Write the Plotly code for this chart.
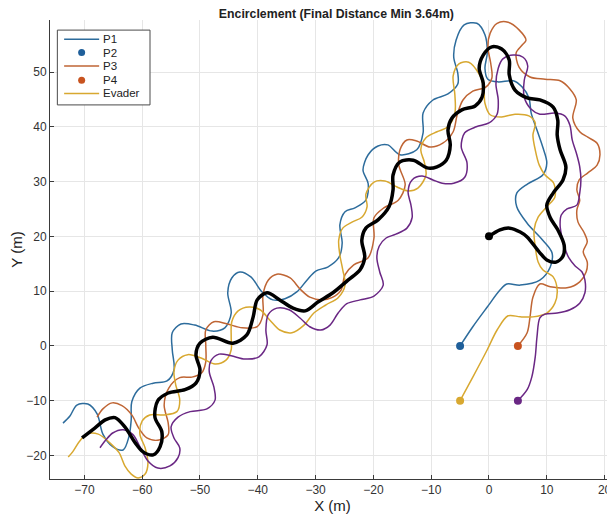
import plotly.graph_objects as go

# ---------------- data (metres) ----------------
evader_x = [0.0, 1.9, 3.6, 5.4, 6.6, 8.8, 10.0, 11.6, 12.8, 13.0, 11.9, 10.6, 10.0, 11.1, 12.8, 13.3,
            12.3, 11.8, 11.9, 11.1, 8.8, 6.6, 4.5, 3.5, 3.5, 2.2, 0.5, -1.0, -1.7, -1.0, -1.2, -2.4,
            -4.7, -6.4, -7.1, -6.7, -7.4, -9.0, -10.7, -13.1, -15.4, -16.6, -16.6, -17.3, -19.2, -21.3,
            -22.0, -21.5, -22.3, -24.4, -27.0, -29.6, -31.8, -33.9, -36.2, -38.4, -40.1, -40.8, -41.9,
            -44.3, -47.8, -50.0, -50.7, -50.0, -50.7, -52.6, -55.5, -57.3, -57.8, -56.6, -56.9, -58.1,
            -59.9, -61.2, -63.0, -64.7, -66.4, -68.2, -70.4]
evader_y = [20.0, 21.2, 21.5, 20.8, 19.9, 17.0, 15.7, 15.3, 16.4, 18.4, 21.2, 23.4, 25.7, 27.9, 30.3, 32.7,
            35.8, 38.5, 41.2, 43.6, 44.9, 45.3, 46.7, 49.5, 52.2, 54.2, 54.6, 53.1, 50.7, 48.0, 45.4, 43.8,
            43.1, 41.6, 39.4, 36.7, 33.9, 32.7, 32.5, 33.9, 33.6, 31.2, 28.5, 25.4, 23.0, 21.5,
            19.3, 16.2, 13.9, 12.0, 9.7, 8.0, 6.4, 6.9, 8.4, 9.7, 8.4, 5.3, 2.0,
            0.5, 1.6, 0.5, -1.6, -4.4, -6.8, -8.0, -8.6, -10.0, -13.0, -15.7, -18.4, -19.9,
            -19.3, -17.7, -14.8, -13.1, -13.5, -15.0, -16.8]

p1_x = [-5.0, -2.8, -0.3, 1.9, 3.1, 5.4, 8.8, 10.6, 10.9, 9.3, 6.6, 4.8, 4.8, 6.7, 9.3, 10.0, 9.3, 8.3,
        7.3, 6.9, 5.7, 4.2, 1.6, -0.2, -0.7, -0.3, -0.7, -2.1, -4.3, -5.7, -6.1, -5.4, -5.4, -7.1, -9.7,
        -11.4, -11.4, -12.5, -15.4, -17.5, -19.2, -20.9, -21.8, -20.9, -21.3, -23.2, -24.9, -25.8, -25.4,
        -26.0, -27.9, -29.9, -31.5, -33.2, -35.3, -37.4, -39.3, -41.2, -43.1, -44.5, -45.2, -44.6, -45.7,
        -47.9, -50.9, -53.3, -54.8, -54.8, -54.5, -55.7, -58.1, -60.4, -61.8, -61.9, -62.3, -63.3, -65.1,
        -66.8, -67.8, -69.4, -71.3, -72.5, -73.7]
p1_y = [0.0, 3.5, 7.1, 10.2, 11.3, 11.1, 12.0, 14.4, 17.0, 19.3, 22.4, 25.4, 27.9, 29.6, 31.2, 33.4, 36.3,
        39.4, 42.5, 45.3, 47.3, 48.4, 48.2, 48.7, 50.7, 53.5, 56.8, 58.9, 58.6, 55.8, 52.7, 49.8, 47.8,
        46.0, 44.9, 42.5, 38.9, 35.8, 34.9, 36.7, 36.5, 34.9, 32.1, 29.6, 26.6, 25.2, 24.5, 22.1, 18.8,
        16.1, 14.4, 13.7, 12.0, 9.9, 8.6, 8.4, 9.9, 12.6, 13.5, 12.4, 9.7, 6.0, 3.3, 2.7, 3.8, 4.0, 2.4,
        -0.7, -4.4, -6.4, -6.8, -7.7, -10.2, -13.5, -16.6, -19.0, -18.4, -16.1, -12.4, -10.6, -10.8,
        -12.8, -14.1]

p3_x = [5.0, 6.6, 7.1, 7.6, 8.8, 10.6, 13.5, 15.7, 16.8, 17.0, 16.3, 17.0, 16.4, 15.4, 15.2, 15.7, 15.2,
        15.6, 17.1, 18.7, 19.2, 18.7, 17.1, 15.7, 14.5, 15.1, 14.0, 12.3, 9.7, 7.1, 5.2, 4.7, 5.7, 6.4,
        5.2, 3.3, 1.4, 0.2, -0.2, 0.3, 0.5, -0.5, -2.8, -4.5, -5.5, -6.2, -8.0, -10.2, -12.5, -14.2,
        -15.4, -15.6, -14.5, -15.7, -18.2, -19.9, -19.9, -20.9, -23.4, -24.9, -25.6, -27.2, -28.9, -31.0,
        -32.7, -34.4, -36.7, -38.2, -39.1, -39.1, -40.1, -42.7, -45.3, -47.6, -49.0, -49.0, -49.0, -49.7,
        -51.4, -53.5, -55.4, -56.2, -55.5, -55.5, -57.1, -59.2, -60.6, -61.8, -63.5, -65.2, -66.8, -67.8]
p3_y = [0.0, 2.4, 5.3, 8.9, 11.3, 10.8, 10.6, 11.7, 13.5, 15.3, 17.2, 19.0, 20.8, 22.6, 24.8, 26.6, 28.5,
        30.3, 31.6, 33.0, 34.9, 37.0, 38.1, 39.1, 41.6, 44.9, 46.9, 48.4, 48.7, 49.1, 50.9, 53.5, 54.9,
        55.8, 57.7, 59.1, 58.9, 57.1, 54.6, 51.6, 48.9, 47.3, 46.5, 44.9, 42.2, 39.1, 37.0, 36.3, 37.4,
        37.6, 35.8, 33.0, 29.4, 26.6, 25.2, 23.4, 19.7, 16.1, 14.8, 13.0, 10.2, 8.8, 8.4, 8.9, 10.4, 12.4,
        13.1, 12.0, 9.3, 5.7, 3.5, 3.3, 4.0, 4.4, 2.9, 0.2, -2.9, -4.9, -5.7, -5.8, -7.7, -10.8, -14.1,
        -16.2, -17.2, -16.8, -15.0, -12.6, -10.9, -10.4, -11.5, -13.0]

pe_x = [-5.0, -2.8, -0.3, 1.4, 3.3, 5.4, 7.6, 10.0, 11.4, 11.8, 11.1, 9.3, 8.5, 8.0, 7.8, 8.5, 10.0, 11.4,
        11.2, 9.7, 8.7, 8.0, 7.6, 8.0, 6.9, 4.5, 2.2, 0.2, -0.7, -0.9, -1.7, -3.5, -5.2, -6.2, -5.9, -5.9,
        -7.1, -9.0, -10.9, -11.8, -11.2, -10.9, -12.3, -14.0, -15.9, -18.0, -19.9, -21.3, -21.1, -22.0,
        -23.7, -25.3, -26.0, -25.8, -25.3, -24.9, -26.1, -28.2, -30.3, -32.0, -34.1, -36.2, -37.9, -39.6,
        -41.5, -43.4, -44.5, -44.6, -44.6, -45.5, -47.4, -49.8, -52.1, -53.8, -54.5, -54.2, -53.5, -54.0,
        -56.2, -58.7, -60.0, -60.4, -59.5, -59.0, -59.5, -60.7, -61.9, -63.0, -64.0, -65.6, -67.6, -69.6,
        -70.9, -72.0, -72.8]
pe_y = [-10.0, -5.7, -0.7, 2.9, 5.5, 5.3, 5.3, 6.0, 7.8, 10.2, 12.6, 13.9, 15.3, 18.1, 21.2, 23.5, 25.4,
        27.2, 29.7, 31.2, 33.0, 35.8, 38.5, 40.7, 42.0, 42.3, 41.8, 42.2, 44.3, 47.1, 49.6, 51.8, 51.5,
        49.3, 45.8, 42.5, 40.0, 39.1, 38.0, 35.8, 33.6, 31.2, 28.8, 28.3, 29.0, 30.1, 29.9, 27.7, 25.4,
        23.5, 22.6, 21.5, 19.3, 16.6, 13.9, 11.1, 8.8, 7.5, 6.0, 3.8, 2.4, 2.9, 4.7, 6.6, 7.1, 6.4, 4.4,
        1.6, -0.7, -2.6, -3.3, -2.2, -1.6, -2.6, -4.7, -7.1, -9.9, -12.0, -12.6, -12.6, -13.7, -16.1,
        -18.6, -21.4, -23.4, -24.1, -23.4, -21.9, -19.5, -17.7, -16.1, -16.1, -17.5, -19.3, -20.3]

p4_x = [5.0, 6.6, 7.4, 8.0, 8.3, 8.8, 9.7, 11.8, 14.0, 15.7, 16.6, 16.6, 16.1, 14.9, 13.8, 13.1, 12.6,
        12.3, 12.5, 13.5, 15.2, 15.7, 15.9, 15.7, 15.2, 14.4, 14.0, 13.1, 11.4, 8.8, 7.3, 6.1, 6.1, 6.7,
        5.9, 4.2, 2.4, 1.6, 1.2, 1.6, 1.4, 0.0, -2.2, -4.2, -4.8, -3.8, -4.2, -6.1, -8.1, -9.7, -11.6,
        -13.3, -14.0, -13.5, -13.3, -14.2, -16.1, -17.8, -19.0, -19.4, -18.9, -18.3, -19.9, -22.3, -24.6,
        -26.1, -27.5, -29.1, -31.0, -32.7, -34.6, -36.7, -38.2, -38.6, -38.4, -39.8, -42.2, -44.6, -46.7,
        -48.1, -48.4, -47.6, -47.4, -48.8, -51.7, -53.8, -55.0, -54.5, -53.5, -53.8, -55.2, -57.3, -59.0,
        -60.4, -61.6, -63.3, -65.1, -66.3, -67.3]
p4_y = [-10.0, -8.0, -5.7, -2.0, 1.6, 5.1, 5.8, 6.0, 6.6, 7.8, 9.7, 12.0, 13.5, 14.6, 16.1, 17.9, 19.9,
        22.1, 23.9, 25.0, 25.7, 27.9, 30.3, 32.7, 34.9, 37.6, 40.3, 42.0, 42.5, 42.3, 43.2, 45.4, 48.5,
        51.1, 52.7, 53.1, 52.4, 50.7, 47.8, 44.9, 42.3, 40.7, 40.0, 38.9, 36.3, 33.4, 30.8, 29.7, 29.7,
        30.3, 31.0, 30.3, 28.1, 25.7, 23.4, 21.5, 20.4, 19.7, 18.2, 16.1, 13.5, 11.1, 9.1, 8.4, 7.7, 6.0,
        3.8, 2.9, 3.5, 5.1, 6.6, 6.9, 5.7, 2.9, 0.2, -2.0, -2.4, -1.8, -1.5, -2.7, -4.7, -7.5, -9.9,
        -11.5, -12.0, -13.0, -14.8, -16.8, -18.6, -20.4, -21.9, -22.3, -21.0, -18.4, -16.2, -15.3,
        -15.9, -17.2, -18.6]

legend_names = ["P1", "P2", "P3", "P4", "Evader"]
x_ticks = [-70, -60, -50, -40, -30, -20, -10, 0, 10, 20]
y_ticks = [-20, -10, 0, 10, 20, 30, 40, 50]

BLUE = "#2d6c9c"
BLUE_DOT = "#1f5f9a"
ORANGE = "#bf6534"
ORANGE_DOT = "#c8531f"
YELLOW = "#d8a830"
PURPLE = "#6a2784"
FONT = "Liberation Sans, Arial, sans-serif"

fig = go.Figure()

def path(x, y, color, width, name=None):
    fig.add_trace(go.Scatter(x=x, y=y, mode="lines", name=name, showlegend=False,
                             line=dict(color=color, width=width, shape="spline", smoothing=0.9),
                             hoverinfo="skip"))

def start(x, y, color, name=None):
    fig.add_trace(go.Scatter(x=[x[0]], y=[y[0]], mode="markers", name=name, showlegend=False,
                             marker=dict(color=color, size=8), hoverinfo="skip"))

path(p1_x, p1_y, BLUE, 1.5, legend_names[0])
start(p1_x, p1_y, BLUE_DOT, legend_names[1])
path(p3_x, p3_y, ORANGE, 1.5, legend_names[2])
start(p3_x, p3_y, ORANGE_DOT, legend_names[3])
path(pe_x, pe_y, YELLOW, 1.5, legend_names[4])
start(pe_x, pe_y, YELLOW)
path(p4_x, p4_y, PURPLE, 1.5)
start(p4_x, p4_y, PURPLE)
path(evader_x, evader_y, "#000000", 3.5)
start(evader_x, evader_y, "#000000")

# ---- compact MATLAB-style legend (box, swatches, labels) in paper coords ----
leg_x0, leg_x1, leg_y0, leg_y1 = 0.013, 0.177, 0.815, 0.978
item_y = [0.958, 0.929, 0.900, 0.869, 0.840]
sw_x0, sw_x1, dot_x, txt_x = 0.025, 0.087, 0.056, 0.090
legend_styles = [("line", BLUE), ("dot", BLUE_DOT), ("line", ORANGE), ("dot", ORANGE_DOT), ("line", YELLOW)]

shapes = [dict(type="rect", xref="paper", yref="paper", x0=leg_x0, x1=leg_x1, y0=leg_y0, y1=leg_y1,
               line=dict(color="#4a4a4a", width=1), fillcolor="white", layer="above")]
annotations = []
for name, (kind, col), yy in zip(legend_names, legend_styles, item_y):
    if kind == "line":
        shapes.append(dict(type="line", xref="paper", yref="paper", x0=sw_x0, x1=sw_x1, y0=yy, y1=yy,
                           line=dict(color=col, width=1.5), layer="above"))
    else:
        shapes.append(dict(type="circle", xref="paper", yref="paper", xsizemode="pixel",
                           ysizemode="pixel", xanchor=dot_x, yanchor=yy, x0=-3.5, x1=3.5, y0=-3.5, y1=3.5,
                           fillcolor=col, line=dict(color=col, width=0), layer="above"))
    annotations.append(dict(xref="paper", yref="paper", x=txt_x, y=yy, text=name, showarrow=False,
                            xanchor="left", yanchor="middle",
                            font=dict(family=FONT, size=11.5, color="#222222")))

axis_common = dict(showgrid=True, gridcolor="#e6e6e6", gridwidth=1, zeroline=False,
                   showline=True, linecolor="#3a3a3a", linewidth=1,
                   ticks="inside", ticklen=4, tickcolor="#3a3a3a",
                   tickfont=dict(family=FONT, size=12, color="#333333"),
                   automargin=False)

fig.update_layout(
    width=615, height=520,
    margin=dict(l=42, r=8, t=12, b=49),
    paper_bgcolor="white", plot_bgcolor="white",
    title=dict(text="<b>Encirclement (Final Distance Min 3.64m)</b>", x=0.534, xanchor="center",
               y=0.990, yanchor="middle", yref="container",
               font=dict(family=FONT, size=12.3, color="#222222")),
    xaxis=dict(range=[-75.95, 21.8], tickvals=x_ticks,
               title=dict(text="X (m)", standoff=3, font=dict(family=FONT, size=15, color="#222222")),
               **axis_common),
    yaxis=dict(range=[-24.3, 59.5], tickvals=y_ticks,
               title=dict(text="Y (m)", standoff=5, font=dict(family=FONT, size=15, color="#222222")),
               **axis_common),
    shapes=shapes,
    annotations=annotations,
    showlegend=False,
)

fig.write_html("out.html")
